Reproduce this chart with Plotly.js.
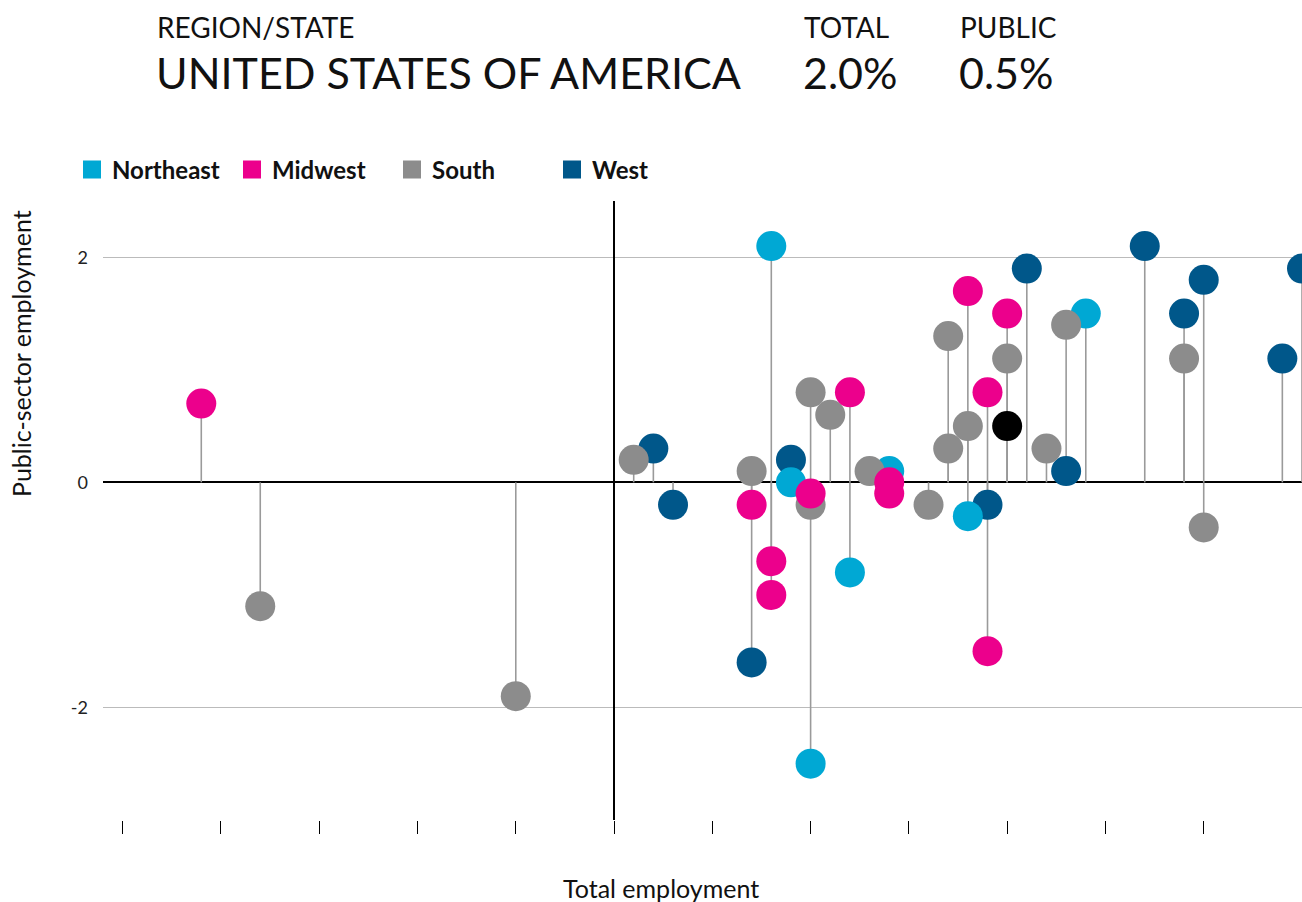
<!DOCTYPE html>
<html><head><meta charset="utf-8">
<script src="https://cdn.plot.ly/plotly-3.0.1.min.js"></script>
<style>html,body{margin:0;padding:0;background:#fff}#chart{width:1302px;height:902px}</style>
</head><body><div id="chart"></div>
<script>
// ---- data ----
const regionNames = ['Northeast', 'Midwest', 'South', 'West'];
const regionColors = ['#00A8D4', '#EC008C', '#8C8C8C', '#00578A'];

const northeastX = [0.8, 0.9, 1.0, 1.2, 1.4, 1.8, 2.4];
const northeastY = [2.1, 0.0, -2.5, -0.8, 0.1, -0.3, 1.5];

const midwestX = [-2.1, 0.7, 0.8, 0.8, 1.0, 1.2, 1.4, 1.4, 1.8, 1.9, 1.9, 2.0];
const midwestY = [0.7, -0.2, -0.7, -1.0, -0.1, 0.8, 0.0, -0.1, 1.7, 0.8, -1.5, 1.5];

const southX = [-1.8, -0.5, 0.1, 0.7, 1.0, 1.0, 1.1, 1.3, 1.6, 1.7, 1.7, 1.8, 2.0, 2.2, 2.3, 2.9, 3.0];
const southY = [-1.1, -1.9, 0.2, 0.1, 0.8, -0.2, 0.6, 0.1, -0.2, 1.3, 0.3, 0.5, 1.1, 0.3, 1.4, 1.1, -0.4];

const westX = [0.2, 0.3, 0.7, 0.9, 1.9, 2.1, 2.3, 2.7, 2.9, 3.0, 3.4, 3.5];
const westY = [0.3, -0.2, -1.6, 0.2, -0.2, 1.9, 0.1, 2.1, 1.5, 1.8, 1.1, 1.9];

const usaX = [2.0];
const usaY = [0.5];

const headerLabels = ['REGION/STATE', 'TOTAL', 'PUBLIC'];
const headerValues = ['UNITED STATES OF AMERICA', '2.0%', '0.5%'];

const yTickVals = [-2, 0, 2];
const yTickText = ['-2', '0', '2'];

const xTitle = 'Total employment';
const yTitle = 'Public-sector employment';

// ---- layout helpers ----
const L = 103, R = 0, T = 201, B = 82, W = 1302, H = 902;
const PW = W - L - R, PH = H - T - B;
const px = v => (v - L) / PW;
const py = v => (H - B - v) / PH;
const FONT = 'Lato, "Open Sans", sans-serif';

const regionX = [northeastX, midwestX, southX, westX];
const regionY = [northeastY, midwestY, southY, westY];

// stems built from all series
const stemX = [], stemY = [];
const allX = [...regionX, usaX], allY = [...regionY, usaY];
allX.forEach((xs, i) => {
  xs.forEach((x, j) => { stemX.push(x, x, null); stemY.push(0, allY[i][j], null); });
});

const traces = [];
traces.push({
  x: stemX, y: stemY, mode: 'lines', type: 'scatter',
  line: {color: '#9a9a9a', width: 1.6}, hoverinfo: 'skip', showlegend: false
});
// drawing order: West, Northeast, South, Midwest
[3, 0, 2, 1].forEach(i => {
  traces.push({
    x: regionX[i], y: regionY[i], mode: 'markers', type: 'scatter', name: regionNames[i],
    marker: {color: regionColors[i], size: 30, line: {width: 0}}, showlegend: false
  });
});
traces.push({
  x: usaX, y: usaY, mode: 'markers', type: 'scatter', name: headerValues[0],
  marker: {color: '#000', size: 30, line: {width: 0}}, showlegend: false
});
// legend entries (square swatches)
regionNames.forEach((n, i) => {
  traces.push({
    x: [null], y: [null], mode: 'markers', type: 'scatter', name: n,
    marker: {symbol: 'square', color: regionColors[i], size: 18, line: {color: regionColors[i], width: 2}},
    showlegend: true
  });
});

function ann(text, x, y, size, extra) {
  return Object.assign({text: text, x: px(x), y: py(y), xref: 'paper', yref: 'paper', xanchor: 'left', yanchor: 'middle',
    showarrow: false, font: {family: FONT, size: size, color: '#111'}}, extra || {});
}
const annotations = [
  ann(headerLabels[0], 155, 27, 28),
  ann(headerLabels[1], 802, 27, 28),
  ann(headerLabels[2], 958, 27, 28),
  ann(headerValues[0], 154, 72, 43),
  ann(headerValues[1], 801, 72, 43),
  ann(headerValues[2], 957, 72, 43),
  ann(xTitle, 661, 888, 25, {xanchor: 'center'}),
  ann(yTitle, 21, 354, 25, {xanchor: 'center', textangle: -90})
];

const layout = {
  width: W, height: H,
  margin: {l: L, r: R, t: T, b: B, pad: 0},
  paper_bgcolor: '#fff', plot_bgcolor: '#fff',
  font: {family: FONT, color: '#111'},
  showlegend: true,
  legend: {
    orientation: 'h', x: px(72), xanchor: 'left', y: py(170), yanchor: 'middle',
    font: {family: FONT, size: 24, color: '#111', weight: 700},
    entrywidth: 115, entrywidthmode: 'pixels', itemwidth: 30, bgcolor: 'rgba(0,0,0,0)', traceorder: 'normal'
  },
  xaxis: {
    range: [-2.6, 3.5], showgrid: false, zeroline: true, zerolinecolor: '#000', zerolinewidth: 1.5,
    ticks: 'outside', ticklen: 13, tickwidth: 1, tickcolor: '#000', tick0: 0, dtick: 0.5,
    showticklabels: false, showline: false, fixedrange: true
  },
  yaxis: {
    range: [-3, 2.5], tickmode: 'array', tickvals: yTickVals, ticktext: yTickText,
    showgrid: true, gridcolor: '#bbbbbb', gridwidth: 1,
    zeroline: true, zerolinecolor: '#000', zerolinewidth: 1.5, ticks: '', showline: false,
    tickfont: {family: FONT, size: 18, color: '#222'}, ticklabelstandoff: 14, fixedrange: true
  },
  annotations: annotations,
  hovermode: 'closest'
};

Plotly.newPlot('chart', traces, layout, {displayModeBar: false, responsive: false});
</script>
</body></html>
